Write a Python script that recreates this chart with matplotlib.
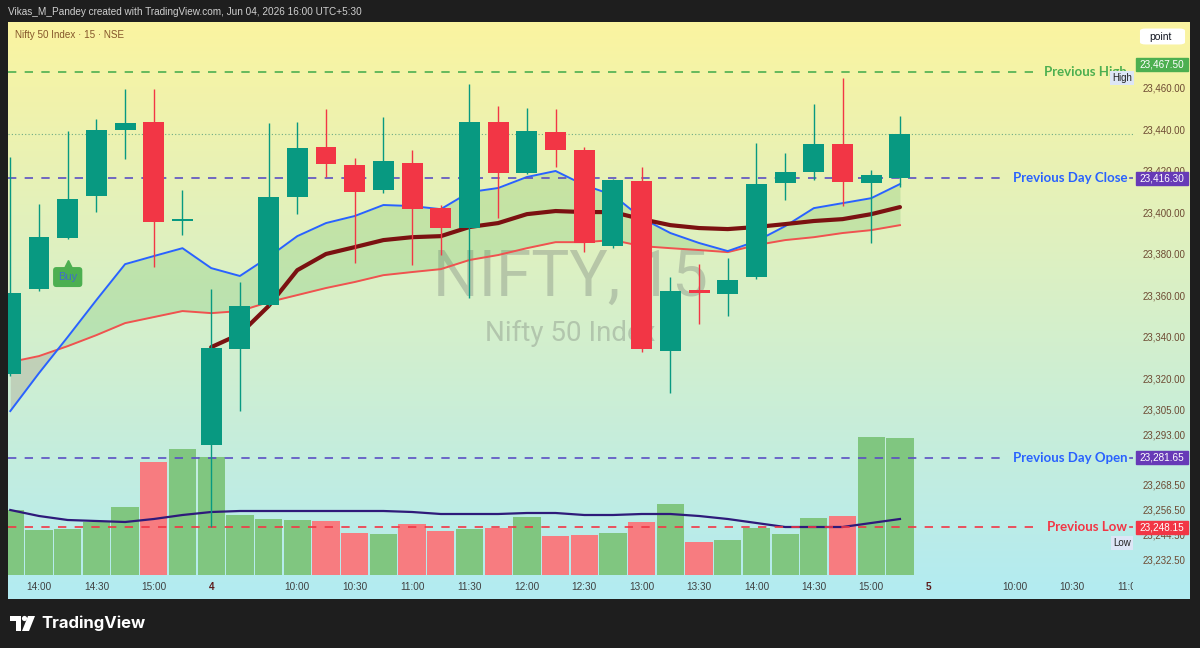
import numpy as np
import matplotlib
matplotlib.use("Agg")
from matplotlib import pyplot as plt
from matplotlib import transforms
from matplotlib.patches import Rectangle, FancyBboxPatch, Polygon, Circle

plt.rcParams['font.family'] = ['Liberation Sans', 'DejaVu Sans']

# NIFTY 15 min bars, Jun 3 13:45 .. Jun 4 15:15
opens = [23322.0, 23362.9, 23387.5, 23407.7, 23439.5, 23443.4, 23395.7, 23287.7,
         23334.0, 23355.2, 23407.2, 23431.3, 23422.7, 23410.6, 23423.6, 23401.9,
         23392.3, 23443.4, 23418.8, 23438.6, 23429.9, 23383.6, 23414.9, 23333.0,
         23362.4, 23360.5, 23368.7, 23414.0, 23419.3, 23432.8, 23414.0, 23416.4]
highs = [23426.5, 23403.9, 23439.0, 23444.8, 23459.3, 23459.3, 23410.6, 23362.9,
         23366.3, 23442.9, 23443.4, 23449.6, 23426.0, 23445.8, 23429.9, 23403.4,
         23461.7, 23451.1, 23450.1, 23449.6, 23431.3, 23415.9, 23421.7, 23368.7,
         23374.9, 23377.8, 23433.3, 23428.4, 23452.0, 23464.6, 23420.2, 23446.3]
lows = [23321.0, 23362.0, 23387.0, 23400.0, 23425.5, 23373.5, 23388.9, 23248.15,
        23304.0, 23354.7, 23399.0, 23416.9, 23375.4, 23409.2, 23374.5, 23379.3,
        23358.6, 23397.1, 23418.3, 23421.7, 23380.7, 23382.7, 23332.5, 23312.8,
        23346.0, 23349.9, 23367.7, 23405.8, 23415.4, 23402.9, 23385.1, 23412.0]
closes = [23361.0, 23388.0, 23406.3, 23439.5, 23442.9, 23395.2, 23396.6, 23334.5,
          23354.7, 23407.2, 23430.8, 23423.1, 23409.6, 23424.6, 23401.4, 23392.3,
          23443.4, 23418.8, 23439.0, 23429.9, 23385.1, 23415.4, 23334.0, 23361.9,
          23361.0, 23367.2, 23413.5, 23419.3, 23432.8, 23414.5, 23417.8, 23437.6]

ema_fast = [23304.1, 23322.4, 23339.8, 23357.6, 23374.9, 23378.8, 23382.6, 23373.0,
            23369.2, 23378.3, 23388.4, 23394.7, 23398.1, 23403.4, 23402.9, 23401.4,
            23409.6, 23411.6, 23416.9, 23419.8, 23413.0, 23408.2, 23397.1, 23389.9,
            23385.1, 23381.2, 23386.0, 23393.2, 23401.9, 23404.3, 23406.7, 23413.5]
ema_slow = [23327.7, 23330.6, 23335.4, 23340.7, 23346.5, 23349.4, 23352.3, 23351.3,
            23352.3, 23356.6, 23360.0, 23363.4, 23366.3, 23369.6, 23371.1, 23372.5,
            23376.9, 23379.3, 23382.6, 23385.5, 23385.5, 23386.5, 23383.6, 23382.6,
            23381.7, 23380.7, 23384.1, 23386.5, 23387.9, 23389.9, 23391.3, 23393.7]
# session vwap, starts with the Jun 4 open bar
vwap_start = 7
vwap = [23334.9, 23341.2, 23354.7, 23372.0, 23379.8, 23383.1, 23386.5, 23387.9,
        23388.4, 23392.8, 23394.7, 23399.0, 23400.5, 23400.0, 23400.0, 23396.6,
        23393.7, 23392.3, 23391.8, 23392.8, 23394.2, 23395.7, 23396.6, 23399.0, 23402.4]

volume = [65, 45, 46, 53, 68, 113, 126, 118, 60, 56, 55, 54, 42, 41, 51, 44,
          46, 47, 58, 39, 40, 42, 53, 71, 33, 35, 47, 41, 57, 59, 138, 137]
volume_ma = [65, 59, 55, 54, 53, 56, 60, 63, 64, 64, 64, 64, 64, 64, 63, 61,
             61, 61, 62, 62, 60, 60, 61, 61, 59, 56, 52, 48, 48, 48, 52, 56]

tick_pos = [1, 3, 5, 7, 10, 12, 14, 16, 18, 20, 22, 24, 26, 28, 30, 32, 35, 37, 39]
tick_labels = ['14:00', '14:30', '15:00', '4', '10:00', '10:30', '11:00', '11:30', '12:00',
               '12:30', '13:00', '13:30', '14:00', '14:30', '15:00', '5', '10:00', '10:30', '11:00']
price_ticks = [23460, 23440, 23420, 23400, 23380, 23360, 23340, 23320, 23305, 23293,
               23268.5, 23256.5, 23244.5, 23232.5]

prev_high = 23467.50
prev_close = 23416.30
prev_open = 23281.65
prev_low = 23248.15
buy_bar = 2

GREEN = '#089981'
RED = '#f23645'

W, H = 1200, 648
fig = plt.figure(figsize=(W / 100, H / 100), dpi=100, facecolor='#1e1e1e')


def px_rect(x0, y0, x1, y1):
    return [x0 / W, 1 - y1 / H, (x1 - x0) / W, (y1 - y0) / H]


def frac(px):
    # pixel x -> fraction of the price pane width
    return (px - 8) / 1125


# gradient panel
bg = fig.add_axes(px_rect(8, 22, 1190, 599))
g = np.linspace(0, 1, 256)[:, None, None]
top = np.array([251, 244, 160]) / 255
bot = np.array([178, 235, 242]) / 255
bg.imshow(top * (1 - g) + bot * g, aspect='auto', extent=[0, 1, 0, 1])
bg.axis('off')

ax_vol = fig.add_axes(px_rect(8, 22, 1133, 575))
ax_vol.patch.set_visible(False)
ax = ax_vol.twinx()
ax.patch.set_visible(False)

idx = np.arange(len(closes))
o = np.array(opens); c = np.array(closes)
up = c >= o

# volume
vcol = ['#80c680' if u else '#f77c80' for u in up]
ax_vol.bar(idx, volume, width=0.95, color=vcol, linewidth=0)
ax_vol.plot(idx, volume_ma, color='#2e1a7a', lw=1.6)
ax_vol.set_ylim(0, 553)
ax_vol.set_yticks([])
ax_vol.set_xticks([])

ax.set_xlim(-0.08, 39.12)
ax.set_ylim(23225.1, 23491.6)
PX = 553 / (23491.6 - 23225.1)

# ema ribbon
ef = np.array(ema_fast); es = np.array(ema_slow)
ax.fill_between(idx, ef, es, where=ef >= es, interpolate=True, color='#4caf50', alpha=0.2, lw=0, zorder=1)
ax.fill_between(idx, ef, es, where=ef < es, interpolate=True, color='#a08c80', alpha=0.3, lw=0, zorder=1)
ax.plot(idx, ema_slow, color='#f0524f', lw=1.4, zorder=2)
ax.plot(idx, ema_fast, color='#2962ff', lw=1.4, zorder=2)
ax.plot(idx[vwap_start:], vwap, color='#7b1111', lw=3, zorder=2, solid_capstyle='round')

# levels
tr = transforms.blended_transform_factory(ax.transAxes, ax.transData)
levels = [(prev_high, 'Previous High', '#4caf50', '#4caf50', 1035),
          (prev_close, 'Previous Day Close', '#5b4fc4', '#2962ff', 1004),
          (prev_open, 'Previous Day Open', '#5b4fc4', '#2962ff', 1004),
          (prev_low, 'Previous Low', RED, RED, 1035)]
for price, name, lcol, tcol, stop in levels:
    ax.plot([0, frac(stop)], [price, price], transform=tr, color=lcol, lw=1.2,
            ls=(0, (5, 5)), zorder=3)
    ax.plot([frac(1130), 1], [price, price], transform=tr, color=lcol, lw=1.2, zorder=3)
    ax.text(frac(1127), price, name, transform=tr, ha='right', va='center',
            color=tcol, fontsize=9.5, fontweight='bold', family=['Lato', 'DejaVu Sans'], zorder=6)

ax.axhline(closes[-1], color='#4f9a7a', ls=(0, (1, 2)), lw=0.8, alpha=0.8, zorder=3)

# candles
ccol = [GREEN if u else RED for u in up]
ax.vlines(idx, lows, highs, colors=ccol, lw=1, zorder=4)
body = np.maximum(np.abs(c - o), 1.2)
ax.bar(idx, body, bottom=np.minimum(o, c), width=0.73, color=ccol, linewidth=0, zorder=5)

# buy signal
buy_tr = transforms.offset_copy(ax.transData, fig, y=-38, units='dots')
ax.text(buy_bar, lows[buy_bar], 'Buy', transform=buy_tr, ha='center', va='center',
        color='#3f6fc8', fontsize=8, zorder=6,
        bbox=dict(boxstyle='round,pad=0.45,rounding_size=0.3', fc='#4caf50', ec='none'))
tri_tr = transforms.offset_copy(ax.transData, fig, y=-25, units='dots')
ax.plot([buy_bar], [lows[buy_bar]], marker='^', ms=6, color='#4caf50', transform=tri_tr, zorder=6)

# watermark
ax.text(0.5, 0.537, 'NIFTY, 15', transform=ax.transAxes, ha='center', va='center',
        fontsize=46, color='#8a9488', alpha=0.45, family=['Roboto', 'DejaVu Sans'], zorder=0)
ax.text(0.5, 0.436, 'Nifty 50 Index', transform=ax.transAxes, ha='center', va='center',
        fontsize=20, color='#8a9488', alpha=0.45, family=['Roboto', 'DejaVu Sans'], zorder=0)

# price scale
ax.set_yticks(price_ticks)
ax.set_yticklabels([f'{p:,.2f}' for p in price_ticks])
ax.tick_params(axis='y', length=0, pad=7, labelcolor='#6d4a32', labelsize=7)
ax.set_xticks([])
for a in (ax, ax_vol):
    for s in a.spines.values():
        s.set_visible(False)


def price_tag(price, color, dy=0):
    y = price + dy / PX
    ax.add_patch(Rectangle((frac(1136), y - 6.5 / PX), 52 / 1125, 13 / PX, transform=tr,
                           color=color, clip_on=False, zorder=7))
    ax.text(frac(1162), y, f'{price:,.2f}', transform=tr, ha='center', va='center',
            color='white', fontsize=7.2, clip_on=False, zorder=8)


price_tag(prev_high, '#4caf50', dy=8)
price_tag(prev_close, '#673ab7')
price_tag(prev_open, '#673ab7')
price_tag(prev_low, RED)

ax.text(frac(1122), prev_high - 6 / PX, 'High', transform=tr, ha='center', va='center',
        fontsize=7, color='#222222', zorder=8,
        bbox=dict(boxstyle='square,pad=0.2', fc='#dde6f6', ec='none'))
ax.text(frac(1122), prev_low - 16 / PX, 'Low', transform=tr, ha='center', va='center',
        fontsize=7, color='#222222', zorder=8,
        bbox=dict(boxstyle='square,pad=0.2', fc='#dde6f6', ec='none'))

# time scale
ax_time = fig.add_axes(px_rect(8, 575, 1133, 599), sharex=ax)
ax_time.axis('off')
ttr = transforms.blended_transform_factory(ax_time.transData, ax_time.transAxes)
for p, lab in zip(tick_pos, tick_labels):
    day = ':' not in lab
    ax_time.text(p, 0.5, lab, transform=ttr, ha='center', va='center', clip_on=True,
                 fontsize=7.2, color='#5c1a1a' if day else '#404040',
                 fontweight='bold' if day else 'normal')

# header / footer
fig.text(8 / W, 1 - 12 / H, 'Vikas_M_Pandey created with TradingView.com, Jun 04, 2026 16:00 UTC+5:30',
         color='#d0d0d0', fontsize=7.2, va='center')
fig.text(15 / W, 1 - 35 / H, 'Nifty 50 Index · 15 · NSE', color='#84552a', fontsize=7.1, va='center')

pt = fig.add_axes(px_rect(1138, 27, 1187, 46))
pt.axis('off')
pt.add_patch(FancyBboxPatch((0.04, 0.08), 0.92, 0.84, boxstyle='round,pad=0,rounding_size=0.12',
                            fc='white', ec='none', transform=pt.transAxes))
pt.text(0.45, 0.5, 'point', ha='center', va='center', fontsize=7.5, color='#131722', transform=pt.transAxes)

logo = fig.add_axes(px_rect(8, 612, 38, 634))
logo.set_xlim(8, 38)
logo.set_ylim(634, 612)
logo.axis('off')
logo.add_patch(Polygon([(10, 616), (21, 616), (21, 631), (16, 631), (16, 621), (10, 621)], fc='white', ec='none'))
logo.add_patch(Circle((24.5, 618.5), 2.6, fc='white', ec='none'))
logo.add_patch(Polygon([(28, 616), (35, 616), (29, 631), (22, 631)], fc='white', ec='none'))
fig.text(41 / W, 1 - 623 / H, 'TradingView', color='white', fontsize=12, fontweight='bold',
         family=['Inter', 'DejaVu Sans'], va='center')

fig.savefig('out.png', dpi=100, facecolor=fig.get_facecolor())
